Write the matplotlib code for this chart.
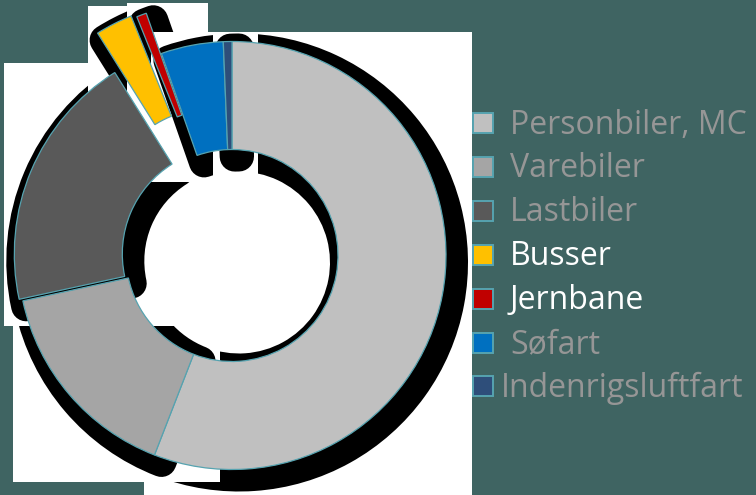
import matplotlib
matplotlib.use('Agg')
import matplotlib.pyplot as plt
from matplotlib.patches import Rectangle

categories = ['Personbiler, MC', 'Varebiler', 'Lastbiler', 'Busser',
              'Jernbane', 'Søfart', 'Indenrigsluftfart']
values = [55.9, 15.7, 19.5, 2.8, 0.75, 4.7, 0.65]

# styling
explode_px = [0, 0, 4, 46, 43, 0, 0]
colors = ['#C0C0C0', '#A5A5A5', '#595959', '#FFC000', '#C00000', '#0070C0', '#2E4E7A']
label_colors = ['#969696', '#969696', '#969696', '#FFFFFF', '#FFFFFF', '#969696', '#969696']
label_x = [510, 510, 510, 510, 510, 510, 501]

W, H = 756, 495
BG = '#3f6462'
EDGE = '#56a3b0'

fig = plt.figure(figsize=(W / 100, H / 100), dpi=100, facecolor=BG)
ax = fig.add_axes([0, 0, 1, 1])
ax.set_facecolor(BG)

cx, cy = 232, H - 255.5
R, r_in = 214, 106
sh_dx, sh_dy, grow = 7, -7, 15

shadow_wedges, _ = ax.pie(values, explode=explode_px, radius=R,
                          center=(cx + sh_dx, cy + sh_dy), startangle=90,
                          counterclock=False, colors=['black'] * len(values),
                          wedgeprops=dict(width=R - r_in, edgecolor='black',
                                          linewidth=2 * grow * 0.72,
                                          joinstyle='round'))
wedges, _ = ax.pie(values, explode=explode_px, radius=R, center=(cx, cy),
                   startangle=90, counterclock=False, colors=colors,
                   wedgeprops=dict(width=R - r_in, edgecolor=EDGE, linewidth=0.9))

for i, w in enumerate(wedges):
    ext = w.get_path().get_extents()
    rect = Rectangle((ext.x0 - 10, ext.y0 - 27), ext.width + 36, ext.height + 37,
                     facecolor='white', edgecolor='none', zorder=1 + 2 * i)
    ax.add_patch(rect)
    sw = shadow_wedges[i]
    sw.set_zorder(2 + 2 * i)
    sw.set_clip_path(rect)
    w.set_zorder(50)

# legend
for i, (lab, col) in enumerate(zip(categories, colors)):
    yc = 123 + 43.9 * i
    ax.add_patch(Rectangle((473, H - yc - 10), 20, 20, facecolor=col,
                           edgecolor=EDGE, linewidth=1.4, zorder=60))
    ax.text(label_x[i], H - (yc + 10.5), lab, fontsize=23, family='Open Sans',
            color=label_colors[i], va='baseline', ha='left', zorder=60)

ax.set_xlim(0, W)
ax.set_ylim(0, H)
ax.set_aspect('auto')
ax.axis('off')

fig.savefig('out.png', dpi=100, facecolor=BG)
